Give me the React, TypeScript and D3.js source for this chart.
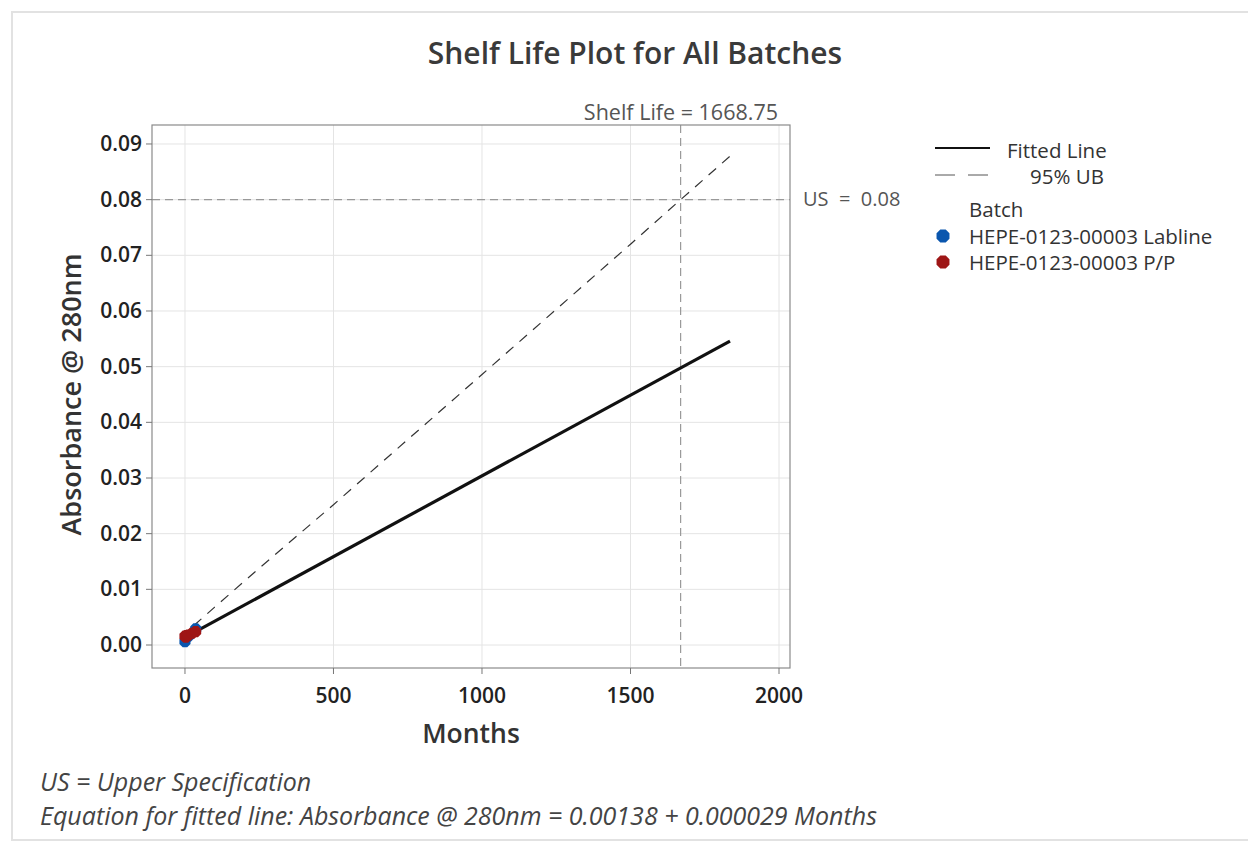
import React from "react";
import * as d3 from "d3";

// Axis ticks
const xTicks = [0, 500, 1000, 1500, 2000];
const yTicks = [0, 0.01, 0.02, 0.03, 0.04, 0.05, 0.06, 0.07, 0.08, 0.09];

// Observations per batch (months, absorbance)
const lablineMonths = [0, 12, 36];
const lablineValues = [0.0006, 0.0016, 0.0029];
const ppMonths = [0, 3, 6, 12, 24, 36];
const ppValues = [0.0016, 0.0014, 0.0017, 0.0018, 0.0021, 0.0024];

// Fitted regression (intercept, slope) and its extent
const fitIntercept = 0.00138;
const fitSlope = 0.000029;
const fitMonths = [0, 1835];

// 95% upper confidence bound
const ubMonths = [30, 100, 250, 500, 750, 1000, 1250, 1500, 1668.75, 1835];
const ubValues = [0.0035, 0.0068, 0.0138, 0.0252, 0.0369, 0.0486, 0.0603, 0.072, 0.08, 0.0878];

// Specification and shelf life
const upperSpec = 0.08;
const shelfLife = 1668.75;

const batches = ["HEPE-0123-00003 Labline", "HEPE-0123-00003 P/P"];
const batchColors = ["#0a56ae", "#9e1616"];

const font = "'Segoe UI', 'Open Sans', 'Noto Sans', sans-serif";

function octagon(cx: number, cy: number, r: number) {
  const pts: string[] = [];
  for (let i = 0; i < 8; i++) {
    const a = Math.PI / 8 + (i * Math.PI) / 4;
    pts.push(`${cx + r * Math.cos(a)},${cy + r * Math.sin(a)}`);
  }
  return pts.join(" ");
}

export default function App() {
  const W = 1248;
  const H = 841;
  const left = 152, right = 790, top = 125, bottom = 668;

  const x = d3.scaleLinear().domain([-111, 2037]).range([left, right]);
  const y = d3.scaleLinear().domain([-0.00413, 0.09341]).range([bottom, top]);

  const line = d3
    .line<[number, number]>()
    .x((d) => x(d[0]))
    .y((d) => y(d[1]));

  const fitPts: [number, number][] = fitMonths.map((m) => [m, fitIntercept + fitSlope * m]);
  const ubPts: [number, number][] = ubMonths.map((m, i) => [m, ubValues[i]]);

  const series = [
    { months: lablineMonths, values: lablineValues, color: batchColors[0] },
    { months: ppMonths, values: ppValues, color: batchColors[1] },
  ];

  return (
    <svg width={W} height={H} style={{ display: "block", position: "absolute", left: 0, top: 0 }}>
      <rect x={0} y={0} width={W} height={H} fill="#fff" />
      <rect x={12} y={12} width={W} height={828} fill="none" stroke="#e2e2e2" strokeWidth={2} />

      <text x={635} y={64} textAnchor="middle" fontFamily={font} fontSize={30} fontWeight={600} fill="#3a3a3a">
        Shelf Life Plot for All Batches
      </text>

      {/* gridlines */}
      {xTicks.map((t) => (
        <line key={"gx" + t} x1={x(t)} x2={x(t)} y1={top} y2={bottom} stroke="#e4e4e4" strokeWidth={1} />
      ))}
      {yTicks.map((t) => (
        <line key={"gy" + t} x1={left} x2={right} y1={y(t)} y2={y(t)} stroke="#e4e4e4" strokeWidth={1} />
      ))}

      {/* reference lines */}
      <line x1={left} x2={right} y1={y(upperSpec)} y2={y(upperSpec)} stroke="#999" strokeWidth={1.2} strokeDasharray="8,5" />
      <line x1={x(shelfLife)} x2={x(shelfLife)} y1={top} y2={bottom} stroke="#999" strokeWidth={1.2} strokeDasharray="8,5" />

      {/* frame */}
      <rect x={left} y={top} width={right - left} height={bottom - top} fill="none" stroke="#8a8a8a" strokeWidth={1.2} />

      {/* ticks */}
      {yTicks.map((t) => (
        <g key={"ty" + t}>
          <line x1={left - 6} x2={left} y1={y(t)} y2={y(t)} stroke="#777" />
          <text x={left - 10} y={y(t) + 7} textAnchor="end" fontFamily={font} fontSize={21} fontWeight={600} fill="#222">
            {t.toFixed(2)}
          </text>
        </g>
      ))}
      {xTicks.map((t) => (
        <g key={"tx" + t}>
          <line x1={x(t)} x2={x(t)} y1={bottom} y2={bottom + 6} stroke="#777" />
          <text x={x(t)} y={703} textAnchor="middle" fontFamily={font} fontSize={21} fontWeight={600} fill="#222">
            {t}
          </text>
        </g>
      ))}

      <text x={471} y={743} textAnchor="middle" fontFamily={font} fontSize={26.5} fontWeight={600} fill="#333">
        Months
      </text>
      <text
        transform={`translate(81, ${(top + bottom) / 2 - 2}) rotate(-90)`}
        textAnchor="middle"
        fontFamily={font}
        fontSize={27}
        fontWeight={600}
        fill="#333"
      >
        Absorbance @ 280nm
      </text>

      {/* fitted line and upper bound */}
      <path d={line(ubPts) || ""} fill="none" stroke="#333" strokeWidth={1.2} strokeDasharray="10,8" />
      <path d={line(fitPts) || ""} fill="none" stroke="#111" strokeWidth={3.2} />

      {/* observations */}
      {series.map((s, si) =>
        s.months.map((m, i) => (
          <polygon key={`p${si}-${i}`} points={octagon(x(m), y(s.values[i]), 6)} fill={s.color} />
        ))
      )}

      <text x={778} y={120} textAnchor="end" fontFamily={font} fontSize={21.5} fill="#555">
        Shelf Life = {shelfLife}
      </text>
      <text x={803} y={206} fontFamily={font} fontSize={20} fill="#555" style={{ whiteSpace: "pre" }}>
        {`US  =  ${upperSpec}`}
      </text>

      {/* legend */}
      <line x1={935} x2={990} y1={148} y2={148} stroke="#111" strokeWidth={2} />
      <text x={1007} y={158} fontFamily={font} fontSize={20.5} fill="#333">Fitted Line</text>
      <line x1={935} x2={990} y1={175} y2={175} stroke="#555" strokeWidth={1} strokeDasharray="20,13" />
      <text x={1030} y={184} fontFamily={font} fontSize={20.5} fill="#333">95% UB</text>
      <text x={969} y={217} fontFamily={font} fontSize={20.5} fill="#333">Batch</text>
      {batches.map((b, i) => (
        <g key={b}>
          <polygon points={octagon(943, 236 + i * 26, 7)} fill={batchColors[i]} />
          <text x={969} y={244 + i * 26} fontFamily={font} fontSize={20.5} fill="#333">{b}</text>
        </g>
      ))}

      {/* footnotes */}
      <text x={40} y={791} fontFamily={font} fontSize={25} fontStyle="italic" fill="#444">
        US = Upper Specification
      </text>
      <text x={40} y={825} fontFamily={font} fontSize={25} fontStyle="italic" fill="#444">
        Equation for fitted line: Absorbance @ 280nm = 0.00138 + 0.000029 Months
      </text>
    </svg>
  );
}
